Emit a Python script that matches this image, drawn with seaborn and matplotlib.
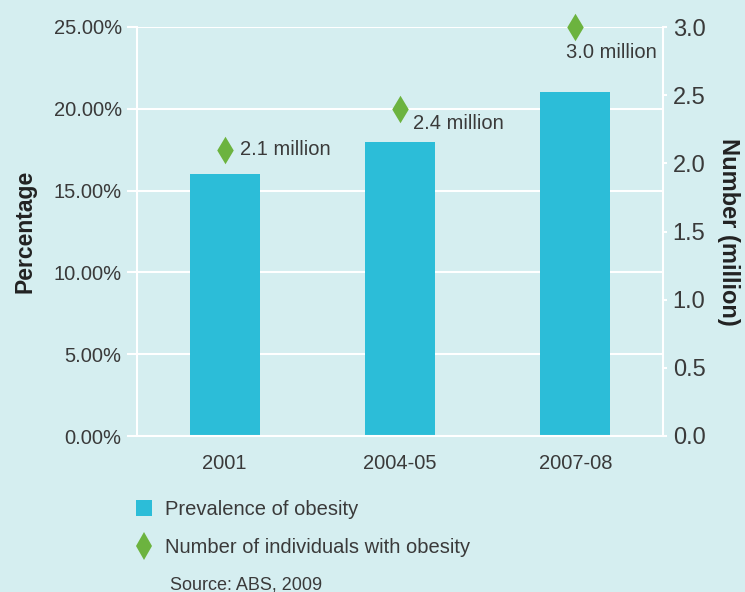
import numpy as np
import pandas as pd
import matplotlib
matplotlib.use("Agg")
import matplotlib.pyplot as plt
from matplotlib.patches import Patch
from matplotlib.lines import Line2D
from matplotlib.ticker import FuncFormatter, MultipleLocator
import seaborn as sns

##### DATA #####
years = ["2001", "2004-05", "2007-08"]
prevalence = [16.0, 18.0, 21.0]          # percent
individuals = [2.1, 2.4, 3.0]            # million
point_labels = ["2.1 million", "2.4 million", "3.0 million"]
label_offsets = [(15, 0), (13, -15), (-9, -25)]   # pixels from diamond

bg = "#d5eef0"
bar_col = "#2cbdd8"
dia_col = "#6cb33f"
txt_col = "#3a3a3a"

##### STYLE #####
sns.set_style("whitegrid", {
    "axes.facecolor": bg, "figure.facecolor": bg,
    "grid.color": "white", "axes.edgecolor": "white",
})
plt.rcParams["font.family"] = ["Liberation Sans", "DejaVu Sans"]
plt.rcParams["text.color"] = txt_col
plt.rcParams["xtick.color"] = "white"
plt.rcParams["ytick.color"] = "white"
plt.rcParams["xtick.labelcolor"] = txt_col
plt.rcParams["ytick.labelcolor"] = txt_col

df = pd.DataFrame({"year": years, "pct": prevalence, "num": individuals})

fig = plt.figure(figsize=(7.45, 5.92), dpi=100)
ax = fig.add_axes([137 / 745, 1 - 436 / 592, (663 - 137) / 745, (436 - 27) / 592])

sns.barplot(data=df, x="year", y="pct", color=bar_col, width=0.4,
            saturation=1, linewidth=0, edgecolor="none", ax=ax, zorder=2)
ax.set_ylim(0, 25)
ax.yaxis.set_major_locator(MultipleLocator(5))
ax.yaxis.set_major_formatter(FuncFormatter(lambda v, p: f"{v:.2f}%"))
ax.grid(axis="y", color="white", linewidth=1.5, zorder=0)
ax.grid(axis="x", visible=False)
ax.set_axisbelow(True)
for s in ["left", "bottom", "right"]:
    ax.spines[s].set_color("white")
    ax.spines[s].set_linewidth(1.5)
ax.spines["top"].set_visible(False)

# category boundary ticks on x
ax.set_xticks(np.arange(-0.5, len(years)), minor=True)
ax.tick_params(axis="x", which="minor", length=7, width=1.5, color="white")
ax.tick_params(axis="x", which="major", length=0, labelsize=14.5, pad=13)
ax.tick_params(axis="y", which="major", length=7, width=1.5, color="white",
               labelsize=14.5, pad=4, left=True)
ax.set_xlim(-0.5, len(years) - 0.5)
ax.set_xlabel("")
ax.set_ylabel("Percentage", fontsize=16.5, fontweight="bold", color="#222222",
              labelpad=12)

ax2 = ax.twinx()
sns.stripplot(data=df, x="year", y="num", ax=ax2, jitter=False, marker="d",
              size=14, color=dia_col, linewidth=0, zorder=5, clip_on=False)
ax2.set_xlim(-0.5, len(years) - 0.5)
ax2.set_ylim(0, 3.0)
ax2.yaxis.set_major_locator(MultipleLocator(0.5))
ax2.yaxis.set_major_formatter(FuncFormatter(lambda v, p: f"{v:.1f}"))
ax2.grid(False)
ax2.patch.set_visible(False)
for s in ["left", "bottom", "right", "top"]:
    ax2.spines[s].set_visible(False)
ax2.tick_params(axis="y", length=3, width=1.5, color="white", labelsize=17, pad=4)
ax2.set_xlabel("")
ax2.set_ylabel("Number (million)", fontsize=17, fontweight="bold",
               color="#222222", rotation=270, labelpad=25)

for i, (lab, off) in enumerate(zip(point_labels, label_offsets)):
    ax2.annotate(lab, xy=(i, individuals[i]), xytext=off,
                 textcoords="offset pixels", ha="left", va="center",
                 fontsize=14.5, color=txt_col, annotation_clip=False)

##### LEGEND #####
handles = [
    Patch(facecolor=bar_col, edgecolor="none"),
    Line2D([], [], marker="d", linestyle="none", markersize=14,
           markerfacecolor=dia_col, markeredgewidth=0),
]
fig.legend(handles, ["Prevalence of obesity", "Number of individuals with obesity"],
           loc="upper left", bbox_to_anchor=(136 / 745, 1 - 500 / 592),
           frameon=False, fontsize=14.5, handlelength=0.8, handleheight=0.8,
           handletextpad=0.65, labelspacing=0.95, borderpad=0, borderaxespad=0,
           labelcolor=txt_col)

fig.text(170 / 745, 1 - 585 / 592, "Source: ABS, 2009", fontsize=13,
         color=txt_col, va="center", ha="left")

fig.savefig("out.png", dpi=100, facecolor=bg)
